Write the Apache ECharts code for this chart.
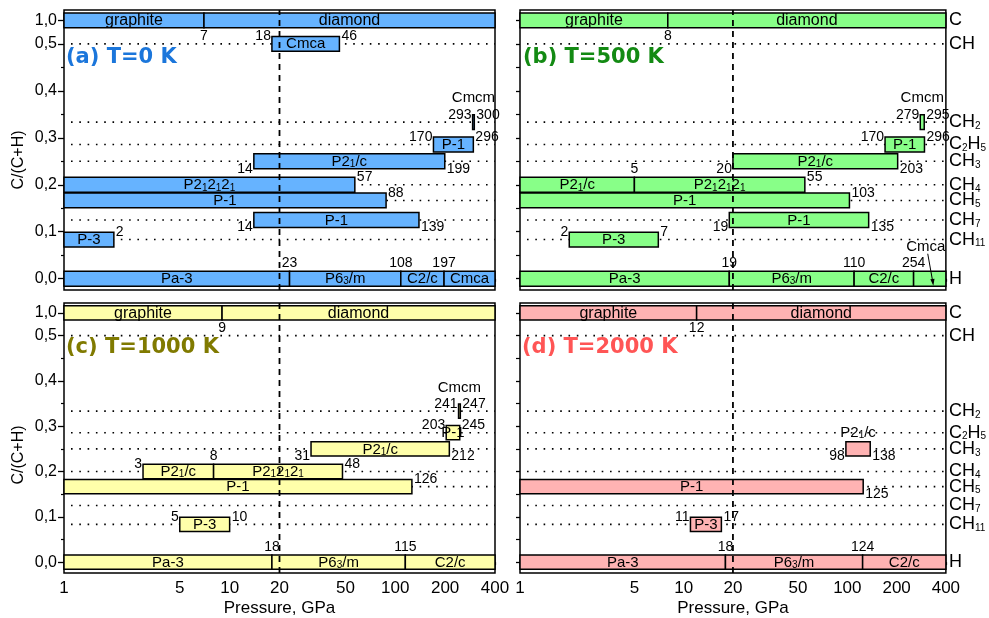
<!DOCTYPE html>
<html><head><meta charset="utf-8">
<script src="https://cdn.jsdelivr.net/npm/echarts@6/dist/echarts.min.js"></script>
<style>html,body{margin:0;padding:0;background:#fff}#c{width:989px;height:618px}</style>
</head><body><div id="c"></div>
<script>
// ---------- data ----------
const formulas = ['C', 'CH', 'CH2', 'C2H5', 'CH3', 'CH4', 'CH5', 'CH7', 'CH11', 'H'];
const compositions = [1.0, 0.5, 1/3, 2/7, 1/4, 1/5, 1/6, 1/8, 1/12, 0];   // C/(C+H)
const yTickValues = [0, 0.1, 0.2, 0.3, 0.4, 0.5, 1.0];
const yTickLabels = ['0,0', '0,1', '0,2', '0,3', '0,4', '0,5', '1,0'];
const yMinorTicks = [0.05, 0.15, 0.25, 0.35, 0.45];
const xTickValues = [1, 5, 10, 20, 50, 100, 200, 400];
const xMajorTicks = [1, 10, 100];
const xMinorTicks = [2, 3, 4, 5, 6, 7, 8, 9, 20, 30, 40, 50, 60, 70, 80, 90, 200, 300, 400];
const panelTitles = ['(a) T=0 K', '(b) T=500 K', '(c) T=1000 K', '(d) T=2000 K'];
const xAxisTitle = 'Pressure, GPa';
const yAxisTitle = 'C/(C+H)';
const transitionPressure = 20;

// [formula row, from GPa, to GPa, space group]
const phasesT0 = [
  [0, 1, 7, 'graphite'], [0, 7, 400, 'diamond'],
  [1, 18, 46, 'Cmca'],
  [2, 293, 300, 'Cmcm'],
  [3, 170, 296, 'P-1'],
  [4, 14, 199, 'P2_1/c'],
  [5, 1, 57, 'P2_12_12_1'],
  [6, 1, 88, 'P-1'],
  [7, 14, 139, 'P-1'],
  [8, 1, 2, 'P-3'],
  [9, 1, 23, 'Pa-3'], [9, 23, 108, 'P6_3/m'], [9, 108, 197, 'C2/c'], [9, 197, 400, 'Cmca']
];
const phasesT500 = [
  [0, 1, 8, 'graphite'], [0, 8, 400, 'diamond'],
  [2, 279, 295, 'Cmcm'],
  [3, 170, 296, 'P-1'],
  [4, 20, 203, 'P2_1/c'],
  [5, 1, 5, 'P2_1/c'], [5, 5, 55, 'P2_12_12_1'],
  [6, 1, 103, 'P-1'],
  [7, 19, 135, 'P-1'],
  [8, 2, 7, 'P-3'],
  [9, 1, 19, 'Pa-3'], [9, 19, 110, 'P6_3/m'], [9, 110, 254, 'C2/c'], [9, 254, 400, 'Cmca']
];
const phasesT1000 = [
  [0, 1, 9, 'graphite'], [0, 9, 400, 'diamond'],
  [2, 241, 247, 'Cmcm'],
  [3, 203, 245, 'P-1'],
  [4, 31, 212, 'P2_1/c'],
  [5, 3, 8, 'P2_1/c'], [5, 8, 48, 'P2_12_12_1'],
  [6, 1, 126, 'P-1'],
  [8, 5, 10, 'P-3'],
  [9, 1, 18, 'Pa-3'], [9, 18, 115, 'P6_3/m'], [9, 115, 400, 'C2/c']
];
const phasesT2000 = [
  [0, 1, 12, 'graphite'], [0, 12, 400, 'diamond'],
  [4, 98, 138, 'P2_1/c'],
  [6, 1, 125, 'P-1'],
  [8, 11, 17, 'P-3'],
  [9, 1, 18, 'Pa-3'], [9, 18, 124, 'P6_3/m'], [9, 124, 400, 'C2/c']
];
const phaseSets = [phasesT0, phasesT500, phasesT1000, phasesT2000];

// ---------- style ----------
const FONT = '"Liberation Sans", Arial, sans-serif';
const BAR_COLORS = ['#66b3ff', '#88ff88', '#ffffaa', '#ffb3b3'];
const TITLE_COLORS = ['#1b76db', '#138a13', '#807a00', '#ff5555'];
const bottomNumberRows = [[4, 7], [4, 7], [4], [4, 6]];
const nameAboveRows = [[2], [2], [2], [4]];
const calloutBars = [[], [13], [], []];
const grids = [
  {left: 64, top: 10, width: 431, height: 280},
  {left: 520, top: 10, width: 430, height: 280},
  {left: 64, top: 303, width: 431, height: 279},
  {left: 520, top: 303, width: 430, height: 279}
];
const Y_MIN = -0.024, Y_MAX = 0.572, BAR_HALF = 0.0158;
const titlePos = [[66, 58], [523, 58], [66, 348], [522, 348]];

// broken axis: 0..0.5 linear, 1.0 placed just above 0.5
function breakAxis(c) { return c > 0.5 ? 0.5 + (c - 0.5) * 0.1 : c; }
function subRich(s) { return s.replace(/_(\d)/g, '{s|$1}'); }
function formulaRich(f) { return f.replace(/(\d+)/g, '{s|$1}'); }

const richSub = {
  s: {fontSize: 10, fontFamily: FONT, verticalAlign: 'bottom', lineHeight: 9, fill: '#000'}
};

function numText(t, x, y, align, vAlign) {
  return {type: 'text', x: x, y: y, style: {text: String(t), fontSize: 14, fontFamily: FONT, fill: '#000', align: align, verticalAlign: vAlign}};
}

function makeBarRenderer(g) {
  const list = phaseSets[g];
  return function (params, api) {
    const i = params.dataIndex;
    const row = list[i][0], name = list[i][3];
    const from = api.value(0), to = api.value(1), yv = api.value(2);
    const x0 = api.coord([from, yv])[0], x1 = api.coord([to, yv])[0];
    const yTop = api.coord([from, yv + BAR_HALF])[1];
    const yBot = api.coord([from, yv - BAR_HALF])[1];
    const yc = (yTop + yBot) / 2, xm = (x0 + x1) / 2;
    const children = [{
      type: 'rect', shape: {x: x0, y: yTop, width: Math.max(x1 - x0, 1), height: yBot - yTop},
      style: {fill: BAR_COLORS[g], stroke: '#000', lineWidth: 1.5}
    }];
    const sameRow = list.filter(b => b[0] === row);
    const sharedStart = sameRow.some(b => b[2] === from);
    const sharedEnd = sameRow.some(b => b[1] === to);
    const numBottom = bottomNumberRows[g].indexOf(row) >= 0;
    const numY = numBottom ? yBot : yTop;
    if (from > 1 && !sharedStart) children.push(numText(from, x0 - 1, numY, 'right', 'middle'));
    if (to < 400 && !sharedEnd) children.push(numText(to, x1 + 2, numY, 'left', 'middle'));
    if (sharedEnd) {
      if (row === 0) children.push(numText(to, x1, yBot + 1, 'center', 'top'));
      else children.push(numText(to, x1, yTop - 1, 'center', 'bottom'));
    }
    const fs = row === 0 ? 16 : 15;
    if (calloutBars[g].indexOf(i) >= 0) {
      children.push({type: 'text', x: xm - 4, y: yc - 32, style: {text: name, fontSize: 15, fontFamily: FONT, fill: '#000', align: 'center', verticalAlign: 'middle'}});
      children.push({type: 'line', shape: {x1: xm - 2, y1: yc - 25, x2: xm + 3, y2: yc + 3}, style: {stroke: '#000', lineWidth: 1}});
      children.push({type: 'polygon', shape: {points: [[xm + 3.6, yc + 7], [xm + 0.6, yc + 0.5], [xm + 4.8, yc + 0]]}, style: {fill: '#000'}});
    } else if (nameAboveRows[g].indexOf(row) >= 0) {
      const gap = (!numBottom && (from > 1 || to < 400)) ? 9 : 1;
      children.push({type: 'text', x: xm, y: yTop - gap, style: {text: subRich(name), fontSize: 15, fontFamily: FONT, fill: '#000', align: 'center', verticalAlign: 'bottom', rich: richSub}});
    } else {
      children.push({type: 'text', x: xm, y: yc + 0.5, style: {text: subRich(name), fontSize: fs, fontFamily: FONT, fill: '#000', align: 'center', verticalAlign: 'middle', rich: richSub}});
    }
    return {type: 'group', children: children};
  };
}

const xAxes = [], yAxes = [], series = [], graphics = [];
const yTickT = yTickValues.map(breakAxis);
const compT = compositions.map(breakAxis);
function nearestIndex(arr, v) {
  let best = 0;
  arr.forEach((a, k) => { if (Math.abs(a - v) < Math.abs(arr[best] - v)) best = k; });
  return best;
}

grids.forEach((gr, g) => {
  const isBottom = g >= 2, isLeft = g % 2 === 0;
  const xi = xAxes.length;
  xAxes.push({
    gridIndex: g, type: 'log', logBase: 10, min: 1, max: 400, position: 'bottom',
    axisLine: {show: false}, splitLine: {show: false}, minorTick: {show: false},
    axisTick: {show: true, customValues: xMajorTicks, length: 5, lineStyle: {color: '#000', width: 1.3}},
    axisLabel: {show: isBottom, customValues: xTickValues, formatter: v => String(Math.round(v)),
      fontSize: 17, color: '#000', margin: 7, fontFamily: FONT},
    name: isBottom ? xAxisTitle : '', nameLocation: 'middle', nameGap: 27,
    nameTextStyle: {fontSize: 17, color: '#000', fontFamily: FONT}
  });
  xAxes.push({
    gridIndex: g, type: 'log', logBase: 10, min: 1, max: 400, position: 'bottom',
    axisLine: {show: false}, splitLine: {show: false},
    axisTick: {show: true, customValues: xMinorTicks, length: 3, lineStyle: {color: '#000', width: 1.2}},
    axisLabel: {show: false}
  });
  const yi = yAxes.length;
  yAxes.push({
    gridIndex: g, type: 'value', min: Y_MIN, max: Y_MAX, position: 'left', offset: 0,
    axisLine: {show: false}, splitLine: {show: false},
    axisTick: {show: true, customValues: yTickT, length: isLeft ? 6 : 4, lineStyle: {color: '#000', width: 1.3}},
    axisLabel: {show: isLeft, customValues: yTickT, formatter: v => yTickLabels[nearestIndex(yTickT, v)],
      fontSize: 16, color: '#000', margin: 7, fontFamily: FONT}
  });
  yAxes.push({
    gridIndex: g, type: 'value', min: Y_MIN, max: Y_MAX, position: 'left', offset: 0,
    axisLine: {show: false}, splitLine: {show: false},
    axisTick: {show: true, customValues: yMinorTicks, length: isLeft ? 3 : 4, lineStyle: {color: '#000', width: 1.2}},
    axisLabel: {show: false}
  });
  if (!isLeft) {
    yAxes.push({
      gridIndex: g, type: 'value', min: Y_MIN, max: Y_MAX, position: 'right', offset: 0,
      axisLine: {show: false}, splitLine: {show: false}, axisTick: {show: false},
      axisLabel: {show: true, customValues: compT, margin: 3, fontSize: 18, color: '#000', fontFamily: FONT,
        formatter: v => formulaRich(formulas[nearestIndex(compT, v)]),
        rich: {s: {fontSize: 10, fontFamily: FONT, verticalAlign: 'bottom', lineHeight: 7, color: '#000'}}}
    });
  }
  // dotted composition guides
  series.push({
    type: 'custom', xAxisIndex: xi, yAxisIndex: yi, z: 1, silent: true, clip: false,
    data: compT.slice(1, 9).map(v => [1, v]), encode: {x: 0, y: 1},
    renderItem: (params, api) => {
      const a = api.coord([1, api.value(1)]), b = api.coord([400, api.value(1)]);
      return {type: 'line', shape: {x1: a[0] + 7, y1: a[1], x2: b[0], y2: b[1]},
        style: {stroke: '#000', lineWidth: 1.6, lineDash: [1.6, 6.7]}};
    }
  });
  // phase bars
  series.push({
    type: 'custom', xAxisIndex: xi, yAxisIndex: yi, z: 2, silent: true, clip: false,
    data: phaseSets[g].map(p => [p[1], p[2], breakAxis(compositions[p[0]])]),
    encode: {x: [0, 1], y: 2},
    renderItem: makeBarRenderer(g)
  });
  // dashed line at 20 GPa
  series.push({
    type: 'custom', xAxisIndex: xi, yAxisIndex: yi, z: 3, silent: true, clip: false,
    data: [[transitionPressure, Y_MIN]], encode: {x: 0, y: 1},
    renderItem: (params, api) => {
      const a = api.coord([api.value(0), Y_MIN]), b = api.coord([api.value(0), Y_MAX]);
      return {type: 'line', shape: {x1: a[0], y1: a[1], x2: b[0], y2: b[1]},
        style: {stroke: '#000', lineWidth: 1.8, lineDash: [6, 5]}};
    }
  });
  graphics.push({
    type: 'text', left: titlePos[g][0], top: titlePos[g][1] - 11, z: 10,
    style: {text: panelTitles[g], fontSize: 21, fontWeight: 'bold', fontFamily: '"DejaVu Sans", sans-serif', fill: TITLE_COLORS[g]}
  });
  if (isLeft) {
    graphics.push({
      type: 'text', x: 19, y: gr.top + (g === 0 ? 150 : 152), rotation: Math.PI / 2, z: 10,
      style: {text: yAxisTitle, fontSize: 16, fontFamily: FONT, fill: '#000', align: 'center', verticalAlign: 'middle'}
    });
  }
});

const chart = echarts.init(document.getElementById('c'), null, {renderer: 'canvas'});
chart.setOption({
  animation: false,
  backgroundColor: '#fff',
  grid: grids.map(gr => Object.assign({show: true, borderColor: '#000', borderWidth: 1.5, backgroundColor: 'transparent', containLabel: false}, gr)),
  xAxis: xAxes,
  yAxis: yAxes,
  series: series,
  graphic: graphics
});
</script>
</body></html>
